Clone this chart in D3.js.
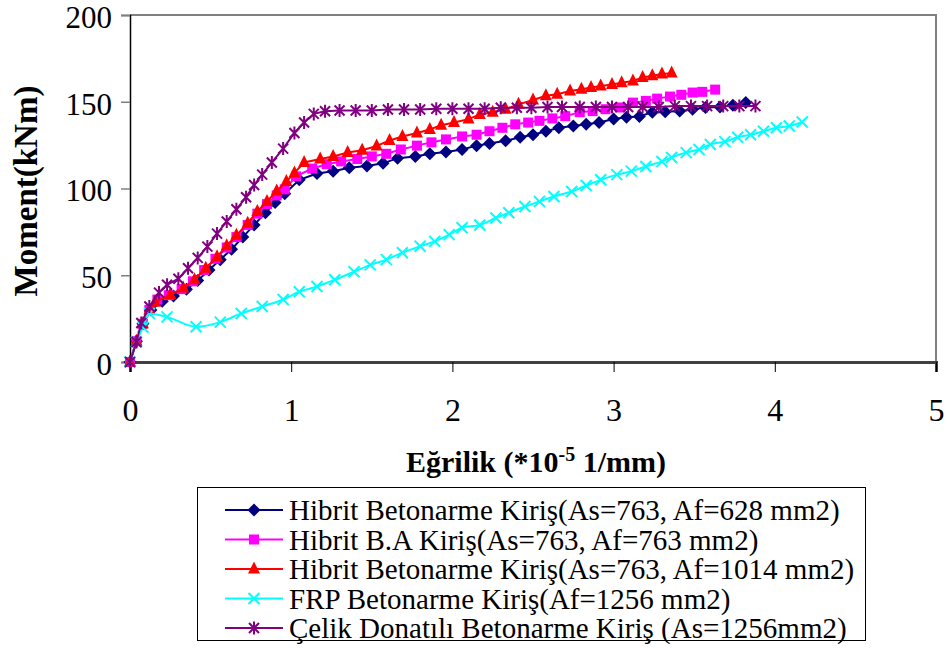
<!DOCTYPE html>
<html><head><meta charset="utf-8">
<script src="https://cdn.jsdelivr.net/npm/d3@7"></script>
<style>body{margin:0;background:#fff}svg{display:block}text{font-family:"Liberation Serif","Times New Roman",serif}</style>
</head><body>
<svg id="c" width="947" height="648"></svg>
<script>
const xTicks = [0,1,2,3,4,5];
const yTicks = [0,50,100,150,200];
const seriesNames = [
  "Hibrit Betonarme Kiriş(As=763, Af=628 mm2)",
  "Hibrit B.A Kiriş(As=763, Af=763 mm2)",
  "Hibrit Betonarme Kiriş(As=763, Af=1014 mm2)",
  "FRP Betonarme Kiriş(Af=1256 mm2)",
  "Çelik Donatılı Betonarme Kiriş (As=1256mm2)"
];
const navyX = [0,0.04,0.08,0.13,0.2,0.27,0.35,0.42,0.49,0.56,0.63,0.7,0.77,0.84,0.9,0.96,1.05,1.16,1.26,1.36,1.47,1.57,1.66,1.77,1.86,1.96,2.06,2.15,2.23,2.33,2.42,2.5,2.58,2.66,2.75,2.83,2.91,3.0,3.08,3.16,3.24,3.32,3.41,3.49,3.57,3.66,3.74,3.82];
const navyY = [0,12,22,30,35,38,42,47,53,59,65,72,79,86,92,97,105,108.6,110,112,113,114.5,117.5,118.5,120,121,122.5,124.7,126,127.5,129.5,131,133,135,136,137,138,140,141,141.5,144,144.3,144.6,145.7,146.7,147,148,149.5];
const magX = [0,0.04,0.08,0.12,0.17,0.24,0.32,0.39,0.46,0.53,0.6,0.66,0.73,0.79,0.85,0.91,0.96,1.03,1.13,1.22,1.31,1.41,1.5,1.59,1.68,1.78,1.87,1.96,2.06,2.15,2.23,2.31,2.39,2.47,2.54,2.62,2.7,2.79,2.87,2.95,3.04,3.12,3.2,3.27,3.35,3.42,3.49,3.55,3.63];
const magY = [0,12,22,30,36,38.5,42,46.5,53,59.5,66,72,79,85.5,91,96,99.5,107,111.5,114,115.6,117,118.5,120,122.5,124.7,126.6,128.3,130,131,133,135,137,138,139,140.4,141.7,144,144.6,145.7,146.7,149.5,150.5,151.8,153,154,155.3,155.7,157];
const redX = [0,0.04,0.08,0.12,0.155,0.25,0.33,0.40,0.47,0.54,0.6,0.66,0.73,0.79,0.85,0.91,0.97,1.02,1.08,1.18,1.26,1.35,1.44,1.53,1.61,1.69,1.78,1.86,1.93,2.01,2.1,2.17,2.25,2.33,2.41,2.5,2.58,2.65,2.73,2.8,2.86,2.92,2.99,3.05,3.12,3.18,3.24,3.30,3.36];
const redY = [0,12,22,30,34.5,38.7,42.6,47.4,54,60.6,67,73,80,86.8,92.5,98.5,104,109,115,117,118.5,120.7,122,124.5,127.7,130,132,134,136.5,138,140,142.7,144,145.7,148.5,151,153.4,154.3,156.2,157.2,158.2,159.1,160,161,162,164,165,166,166.5];
const cyanX = [0,0.04,0.08,0.12,0.23,0.41,0.56,0.69,0.82,0.95,1.05,1.16,1.27,1.39,1.49,1.59,1.69,1.80,1.89,1.98,2.06,2.17,2.27,2.35,2.45,2.54,2.63,2.74,2.83,2.92,3.02,3.11,3.2,3.3,3.36,3.45,3.53,3.6,3.69,3.77,3.85,3.93,4.01,4.09,4.17];
const cyanY = [0,11.5,20,28,26,20.3,23,28,32,36,40.5,43.5,47.4,52,56,59,63,66.7,69.5,73.4,77.4,79,83,86,89.6,92.5,95.4,98.3,101.7,105,108,110,112.7,115.6,117.9,120.7,122.5,125.4,127,129.5,131,133,135,136,138.3];
const purX = [0,0.04,0.07,0.12,0.18,0.23,0.30,0.36,0.42,0.48,0.54,0.60,0.66,0.72,0.77,0.82,0.88,0.95,1.02,1.08,1.14,1.21,1.30,1.40,1.50,1.60,1.70,1.80,1.90,2.00,2.10,2.20,2.30,2.40,2.49,2.59,2.68,2.79,2.89,2.99,3.09,3.18,3.28,3.38,3.48,3.58,3.68,3.78,3.88];
const purY = [0,11.5,22.5,32,40,44.5,48,54,60,66.5,74,81,88,95,102,108,115,123,132,138,143,144.5,145,145,145,145.5,145.5,145.5,146,146,146,146,146.5,146.5,146.5,147,147,147,147,147,147,147,147,147.5,147.5,147.5,147.5,147.5,147.5];

const colors = ["#000080","#FF00FF","#FF0000","#00FFFF","#800080"];
const shapes = ["diamond","square","triangle","x","star"];
const xs = [navyX,magX,redX,cyanX,purX];
const ys = [navyY,magY,redY,cyanY,purY];

const svg = d3.select("#c");
const L=130,R=936,T=15,B=362;
const x = d3.scaleLinear().domain([0,5]).range([L,R]);
const y = d3.scaleLinear().domain([0,200]).range([B,T]);

svg.append("path").attr("d",`M${L},${T}H${R}V${B}`).attr("fill","none").attr("stroke","#808080").attr("stroke-width",2);

const gx = svg.append("g").attr("transform",`translate(0,${B})`).call(d3.axisBottom(x).tickValues(xTicks).tickSize(10).tickPadding(26).tickFormat(d3.format("d")));
gx.select(".domain").attr("stroke","#404040").attr("stroke-width",3);
gx.selectAll(".tick line").attr("stroke","#000").attr("stroke-width",1);
gx.selectAll(".tick text").attr("font-size",32).attr("font-family","Liberation Serif").attr("fill","#000");
const gy = svg.append("g").attr("transform",`translate(${L},0)`).call(d3.axisLeft(y).tickValues(yTicks).tickSize(9).tickPadding(9).tickFormat(d3.format("d")));
gy.select(".domain").attr("stroke","#000").attr("stroke-width",1.5);
gy.selectAll(".tick line").attr("stroke","#808080").attr("stroke-width",1.5);
gy.selectAll(".tick text").attr("font-size",31).attr("dy","0.4em").attr("font-family","Liberation Serif").attr("fill","#000");

function marker(g, shape, color){
  if(shape==="diamond") g.append("path").attr("d","M0,-6.5L6.5,0L0,6.5L-6.5,0Z").attr("fill",color);
  else if(shape==="square") g.append("rect").attr("x",-5).attr("y",-5).attr("width",10).attr("height",10).attr("fill",color);
  else if(shape==="triangle") g.append("path").attr("d","M0,-7.5L6,4.5L-6,4.5Z").attr("fill",color);
  else if(shape==="x") g.append("path").attr("d","M-5.5,-5.5L5.5,5.5M-5.5,5.5L5.5,-5.5").attr("stroke",color).attr("stroke-width",2);
  else g.append("path").attr("d","M-5,-5L5,5M-5,5L5,-5M0,-6.5V6.5").attr("stroke",color).attr("stroke-width",2);
}

const plot = svg.append("g");
xs.forEach((xa,i)=>{
  const pts = xa.map((v,j)=>[v,ys[i][j]]);
  const line = d3.line().x(d=>x(d[0])).y(d=>y(d[1])).curve(i===3?d3.curveMonotoneX:d3.curveLinear);
  const g = plot.append("g");
  g.append("path").attr("d",line(pts)).attr("fill","none").attr("stroke",colors[i]).attr("stroke-width",2);
  pts.forEach(p=>{
    const m = g.append("g").attr("transform",`translate(${x(p[0])},${y(p[1])})`);
    marker(m,shapes[i],colors[i]);
  });
});

svg.append("text").attr("transform","translate(37,191) rotate(-90)").attr("text-anchor","middle")
  .attr("font-size",33).attr("font-weight","bold").text("Moment(kNm)");
const xt = svg.append("text").attr("x",536).attr("y",472).attr("text-anchor","middle").attr("font-size",30).attr("font-weight","bold");
xt.append("tspan").text("Eğrilik (*10");
xt.append("tspan").attr("font-size",20).attr("dy",-11).text("-5");
xt.append("tspan").attr("dy",11).text(" 1/mm)");

const lg = svg.append("g");
lg.append("rect").attr("x",197.5).attr("y",487.5).attr("width",668).attr("height",153).attr("fill","#fff").attr("stroke","#000").attr("stroke-width",1);
seriesNames.forEach((n,i)=>{
  const cy = 510 + i*29.5;
  lg.append("line").attr("x1",225).attr("x2",283).attr("y1",cy).attr("y2",cy).attr("stroke",colors[i]).attr("stroke-width",2);
  const m = lg.append("g").attr("transform",`translate(254,${cy})`);
  marker(m,shapes[i],colors[i]);
  lg.append("text").attr("x",289).attr("y",cy+10).attr("font-size",29).text(n);
});
</script>
</body></html>
